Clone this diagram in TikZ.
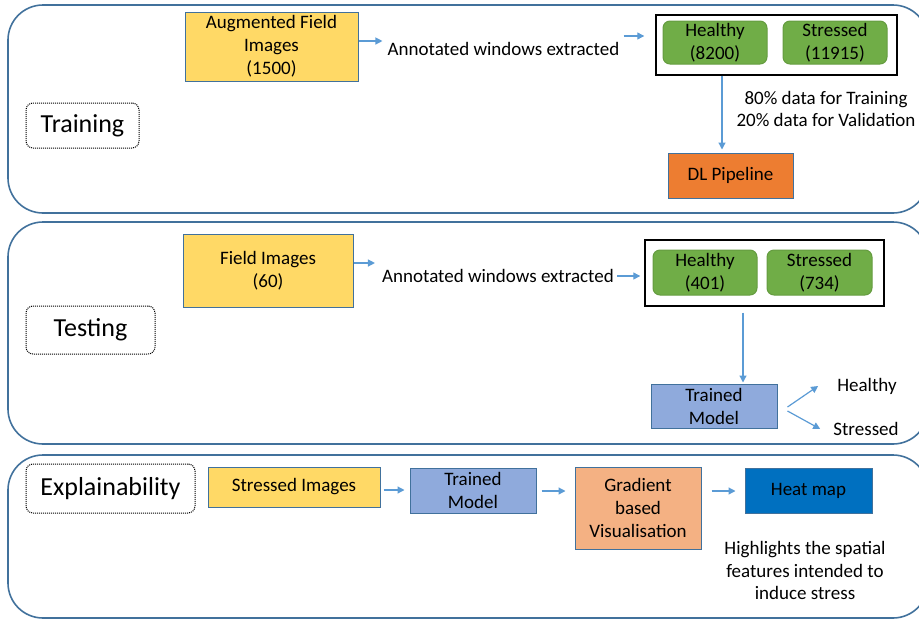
\documentclass[tikz,border=0pt]{standalone}
\usepackage{fontspec}
\setmainfont{Carlito}
\usetikzlibrary{arrows.meta}

\definecolor{panelblue}{HTML}{41719C}
\definecolor{flowblue}{HTML}{5B9BD5}
\definecolor{imgyellow}{HTML}{FFD966}
\definecolor{classgreen}{HTML}{70AD47}
\definecolor{dlorange}{HTML}{ED7D31}
\definecolor{modelblue}{HTML}{8FAADC}
\definecolor{gradsalmon}{HTML}{F4B183}
\definecolor{heatblue}{HTML}{0070C0}

\begin{document}
\begin{tikzpicture}[x=1pt, y=-1pt,
  panel/.style={draw=panelblue, line width=1.6pt, rounded corners=35pt},
  stage/.style={draw, densely dotted, line width=1pt, rounded corners=7pt, font=\fontsize{26}{30}\selectfont},
  block/.style={draw=panelblue, line width=1pt, align=center, inner sep=0pt, font=\fontsize{19}{23}\selectfont},
  classbox/.style={block, draw=classgreen!90!black, fill=classgreen, rounded corners=7pt, minimum width=104pt},
  setbox/.style={draw=black, line width=1.4pt},
  plain/.style={align=center, inner sep=0pt, font=\fontsize{19}{22.5}\selectfont},
  flow/.style={draw=flowblue, line width=1.2pt, -{Triangle[length=7pt,width=7pt]}}]

\clip (0,0) rectangle (919,619);

%% TRAINING
\draw[panel] (8,5) rectangle (928,213);
\node[stage, minimum width=113pt, minimum height=45pt] at (82.5,125.5) (train) {Training};

% Imagenes aumentadas
\node[block, fill=imgyellow, minimum width=173pt, minimum height=69pt] at (271.5,46.5) (aug) {Augmented Field\\Images\\(1500)};
\node[plain] at (503.5,49) (ann1) {Annotated windows extracted};

% Ventanas anotadas
\node[setbox, minimum width=241pt, minimum height=60pt] at (776.5,45) (set1) {};
\node[classbox, minimum height=43pt] at (715,42.5) (h1) {Healthy\\(8200)};
\node[classbox, minimum height=43pt] at (835,42.5) (s1) {Stressed\\(11915)};

\node[plain] at (826,109) (split) {80\% data for Training\\20\% data for Validation};
\node[block, fill=dlorange, minimum width=125pt, minimum height=45pt] at (730.5,175.5) (dl) {DL Pipeline};

% Flechas
\draw[flow, shorten >=5pt] ([yshift=5.5pt]aug.east) -- ([yshift=8pt]ann1.west);
\draw[flow, shorten <=4pt, shorten >=11pt] ([yshift=13pt]ann1.east) -- ([yshift=9pt]set1.west);
\draw[flow, shorten >=3pt] ([xshift=-54.5pt]set1.south) -- ([xshift=-8.5pt]dl.north);


%% TESTING
\draw[panel] (8,222) rectangle (928,444);
\node[stage, minimum width=129pt, minimum height=48pt] at (90.5,330) (test) {Testing};

% Imagenes de campo
\node[block, fill=imgyellow, minimum width=170pt, minimum height=73pt] at (268,270.5) (field) {Field Images\\(60)};
\node[plain] at (498,276) (ann2) {Annotated windows extracted};

% Ventanas anotadas
\node[setbox, minimum width=239pt, minimum height=66pt] at (764.5,273) (set2) {};
\node[classbox, minimum height=45pt] at (705,272.5) (h2) {Healthy\\(401)};
\node[classbox, minimum width=105pt, minimum height=45pt] at (819.5,272.5) (s2) {Stressed\\(734)};

% Modelo entrenado
\node[block, fill=modelblue, minimum width=126pt, minimum height=44pt] at (714,406) (model1) {Trained\\Model};
\node[plain] at (867,386) (outh) {Healthy};
\node[plain] at (866,429) (outs) {Stressed};

% Flechas
\draw[flow, shorten >=7pt] ([yshift=7.5pt]field.east) -- ([yshift=13pt]ann2.west);
\draw[flow, shorten <=3pt, shorten >=4pt] (ann2.east) -- ([yshift=-3pt]set2.west);
\draw[flow, shorten <=6pt, shorten >=1pt] ([xshift=-21.5pt]set2.south) -- ([xshift=29pt]model1.north);
\draw[flow] ([xshift=10pt,yshift=-1pt]model1.east) -- ([xshift=-19pt]outh.west);
\draw[flow] ([xshift=10pt,yshift=-5pt]model1.east) -- ([xshift=-13pt]outs.west);


%% EXPLAINABILITY
\draw[panel] (8,455) rectangle (928,618);
\node[stage, minimum width=169pt, minimum height=49pt] at (110.5,488.5) (explain) {Explainability};

\node[block, fill=imgyellow, minimum width=172pt, minimum height=40pt] at (294,487) (stressimg) {Stressed Images};
\node[block, fill=modelblue, minimum width=126pt, minimum height=45pt] at (473,490.5) (model2) {Trained\\Model};
\node[block, fill=gradsalmon, minimum width=126pt, minimum height=82pt] at (638,508) (grad) {Gradient\\based\\Visualisation};
\node[block, fill=heatblue, minimum width=127pt, minimum height=45pt] at (808.5,490.5) (heat) {Heat map};
\node[plain] at (805,570.5) (note) {Highlights the spatial\\features intended to\\induce stress};

% Flechas
\draw[flow, shorten <=3pt, shorten >=5pt] ([yshift=-3pt]stressimg.east) -- ([yshift=0.5pt]model2.west);
\draw[flow, shorten <=5pt, shorten >=9pt] ([yshift=-0.5pt]model2.east) -- ([yshift=17pt]grad.west);
\draw[flow, shorten <=10pt, shorten >=9pt] ([yshift=17pt]grad.east) -- ([yshift=-0.5pt]heat.west);

\end{tikzpicture}
\end{document}
